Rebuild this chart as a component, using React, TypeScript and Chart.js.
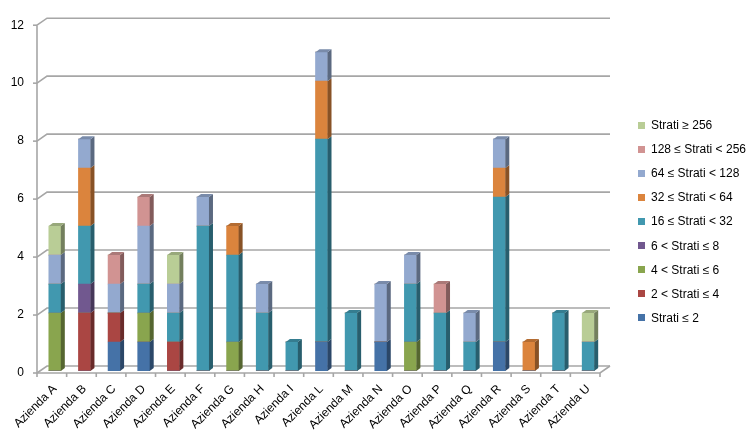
import React, { useEffect, useRef } from "react";
import { Chart, registerables } from "chart.js";

Chart.register(...registerables);

const categories = [
  "Azienda A", "Azienda B", "Azienda C", "Azienda D", "Azienda E", "Azienda F", "Azienda G",
  "Azienda H", "Azienda I", "Azienda L", "Azienda M", "Azienda N", "Azienda O", "Azienda P",
  "Azienda Q", "Azienda R", "Azienda S", "Azienda T", "Azienda U",
];

const seriesLabels = [
  "Strati ≤ 2",
  "2 < Strati ≤ 4",
  "4 < Strati ≤ 6",
  "6 < Strati ≤ 8",
  "16 ≤ Strati < 32",
  "32 ≤ Strati < 64",
  "64 ≤ Strati < 128",
  "128 ≤ Strati < 256",
  "Strati ≥ 256",
];

const seriesColors = [
  "#4572A7", "#AA4643", "#89A54E", "#71588F", "#4198AF",
  "#DB843D", "#93A9CF", "#D19392", "#B9CD96",
];

//                 A  B  C  D  E  F  G  H  I  L  M  N  O  P  Q  R  S  T  U
const stratiLe2 = [0, 0, 1, 1, 0, 0, 0, 0, 0, 1, 0, 1, 0, 0, 0, 1, 0, 0, 0];
const strati2to4 = [0, 2, 1, 0, 1, 0, 0, 0, 0, 0, 0, 0, 0, 0, 0, 0, 0, 0, 0];
const strati4to6 = [2, 0, 0, 1, 0, 0, 1, 0, 0, 0, 0, 0, 1, 0, 0, 0, 0, 0, 0];
const strati6to8 = [0, 1, 0, 0, 0, 0, 0, 0, 0, 0, 0, 0, 0, 0, 0, 0, 0, 0, 0];
const strati16to32 = [1, 2, 0, 1, 1, 5, 3, 2, 1, 7, 2, 0, 2, 2, 1, 5, 0, 2, 1];
const strati32to64 = [0, 2, 0, 0, 0, 0, 1, 0, 0, 2, 0, 0, 0, 0, 0, 1, 1, 0, 0];
const strati64to128 = [1, 1, 1, 2, 1, 1, 0, 1, 0, 1, 0, 2, 1, 0, 1, 1, 0, 0, 0];
const strati128to256 = [0, 0, 1, 1, 0, 0, 0, 0, 0, 0, 0, 0, 0, 1, 0, 0, 0, 0, 0];
const stratiGe256 = [1, 0, 0, 0, 1, 0, 0, 0, 0, 0, 0, 0, 0, 0, 0, 0, 0, 0, 1];

const seriesValues = [
  stratiLe2, strati2to4, strati4to6, strati6to8, strati16to32,
  strati32to64, strati64to128, strati128to256, stratiGe256,
];

const yTicks = [0, 2, 4, 6, 8, 10, 12];

const FONT = "'Liberation Sans', Arial, sans-serif";

function shade(hex: string, f: number): string {
  const n = parseInt(hex.slice(1), 16);
  const r = Math.round(((n >> 16) & 255) * f);
  const g = Math.round(((n >> 8) & 255) * f);
  const b = Math.round((n & 255) * f);
  return `rgb(${r},${g},${b})`;
}

// depth offsets
const BAR_DX = 4;
const BAR_DY = -3;

const frame3d = {
  id: "frame3d",
  beforeDatasetsDraw(chart: any) {
    const { ctx, chartArea, scales } = chart;
    const ys = scales.y;
    const left = chartArea.left;
    const right = chartArea.right;
    const frontX0 = left - 3;
    const frontX1 = right - 3;
    const backX0 = left + 7;
    const backX1 = right + 7;
    ctx.save();
    ctx.strokeStyle = "#A6A6A6";
    ctx.lineWidth = 1.6;
    for (const v of yTicks) {
      const yb = ys.getPixelForValue(v) - 5;
      const yf = ys.getPixelForValue(v) + 2;
      ctx.beginPath();
      ctx.moveTo(frontX0, yf);
      ctx.lineTo(backX0, yb);
      ctx.lineTo(backX1, yb);
      ctx.stroke();
      ctx.beginPath();
      ctx.moveTo(frontX0 - 4, yf);
      ctx.lineTo(frontX0, yf);
      ctx.stroke();
    }
    ctx.beginPath();
    ctx.moveTo(frontX0, ys.getPixelForValue(0) + 2);
    ctx.lineTo(frontX0, ys.getPixelForValue(12) + 2);
    ctx.stroke();
    const yf0 = ys.getPixelForValue(0) + 2;
    const yb0 = ys.getPixelForValue(0) - 5;
    ctx.beginPath();
    ctx.moveTo(frontX0, yf0);
    ctx.lineTo(frontX1, yf0);
    ctx.lineTo(backX1, yb0);
    ctx.stroke();
    const n = categories.length;
    const step = (right - left) / n;
    for (let i = 0; i <= n; i++) {
      const x = frontX0 + i * step;
      ctx.beginPath();
      ctx.moveTo(x, yf0);
      ctx.lineTo(x, yf0 + 4);
      ctx.stroke();
    }
    ctx.restore();
  },
  afterDatasetsDraw(chart: any) {
    const { ctx } = chart;
    const n = categories.length;
    const topIdx: number[] = [];
    for (let i = 0; i < n; i++) {
      let t = -1;
      seriesValues.forEach((s, d) => {
        if (s[i] > 0) t = d;
      });
      topIdx.push(t);
    }
    ctx.save();
    chart.data.datasets.forEach((ds: any, d: number) => {
      const meta = chart.getDatasetMeta(d);
      meta.data.forEach((el: any, i: number) => {
        if (!(seriesValues[d][i] > 0)) return;
        const { x, y, base, width } = el.getProps(["x", "y", "base", "width"], true);
        const x1 = x - width / 2;
        const x2 = x + width / 2;
        const col = seriesColors[d];
        ctx.fillStyle = shade(col, 0.62);
        ctx.beginPath();
        ctx.moveTo(x2, y);
        ctx.lineTo(x2 + BAR_DX, y + BAR_DY);
        ctx.lineTo(x2 + BAR_DX, base + BAR_DY);
        ctx.lineTo(x2, base);
        ctx.closePath();
        ctx.fill();
        if (topIdx[i] === d) {
          ctx.fillStyle = shade(col, 0.82);
          ctx.beginPath();
          ctx.moveTo(x1, y);
          ctx.lineTo(x1 + BAR_DX, y + BAR_DY);
          ctx.lineTo(x2 + BAR_DX, y + BAR_DY);
          ctx.lineTo(x2, y);
          ctx.closePath();
          ctx.fill();
        }
      });
    });
    ctx.restore();
  },
};

export default function App() {
  const ref = useRef<HTMLCanvasElement | null>(null);

  useEffect(() => {
    const canvas = ref.current;
    if (!canvas) return;
    const chart = new Chart(canvas, {
      type: "bar",
      data: {
        labels: categories,
        datasets: seriesLabels.map((label, d) => ({
          label,
          data: seriesValues[d],
          backgroundColor: seriesColors[d],
          borderWidth: 0,
          barThickness: 12,
        })),
      },
      options: {
        responsive: false,
        animation: false,
        maintainAspectRatio: false,
        layout: { padding: { top: 21, right: 152, left: 0, bottom: 0 } },
        plugins: {
          legend: { display: false },
          tooltip: { enabled: false },
        },
        scales: {
          x: {
            stacked: true,
            grid: { display: false, drawTicks: false },
            border: { display: false },
            ticks: {
              autoSkip: false,
              minRotation: 45,
              maxRotation: 45,
              padding: 11,
              color: "#000",
              font: { family: FONT, size: 12 },
            },
            afterFit: (s: any) => {
              s.height = 68;
            },
          },
          y: {
            stacked: true,
            min: 0,
            max: 12,
            grid: { display: false, drawTicks: false },
            border: { display: false },
            ticks: {
              stepSize: 2,
              padding: 16,
              labelOffset: 2,
              color: "#000",
              font: { family: FONT, size: 12 },
            },
            afterFit: (s: any) => {
              s.width = 40;
            },
          },
        },
      },
      plugins: [frame3d],
    });
    return () => chart.destroy();
  }, []);

  const legendItems = seriesLabels
    .map((label, d) => ({ label, color: seriesColors[d] }))
    .reverse();

  return (
    <div style={{ position: "fixed", left: 0, top: 0, width: 755, height: 439, background: "#fff" }}>
      <canvas ref={ref} width={755} height={439} style={{ position: "absolute", left: 0, top: 0 }} />
      {legendItems.map((it, i) => (
        <div
          key={it.label}
          style={{
            position: "absolute",
            left: 638,
            top: 125 + i * 24.1 - 8,
            height: 16,
            display: "flex",
            alignItems: "center",
            fontFamily: FONT,
            fontSize: 12,
            color: "#000",
            whiteSpace: "nowrap",
          }}
        >
          <span style={{ display: "inline-block", width: 7, height: 7, background: it.color, marginRight: 6 }} />
          <span>{it.label}</span>
        </div>
      ))}
    </div>
  );
}
